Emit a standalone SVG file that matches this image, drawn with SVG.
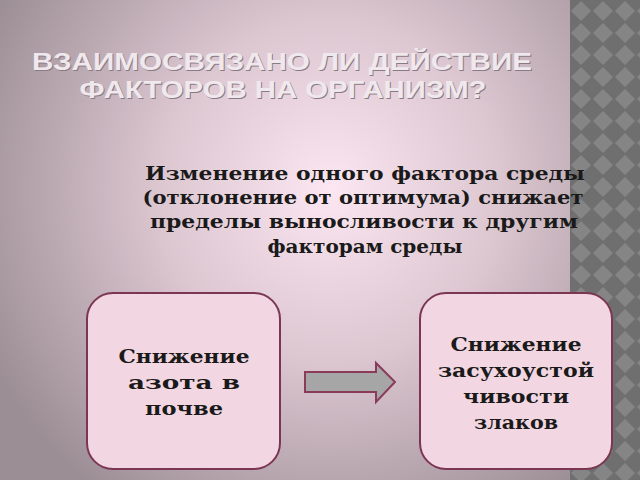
<svg xmlns="http://www.w3.org/2000/svg" width="640" height="480" viewBox="0 0 640 480">
<defs>
<radialGradient id="bg" cx="330" cy="190" r="380" gradientUnits="userSpaceOnUse">
<stop offset="0" stop-color="#fbe6f1"/>
<stop offset="0.45" stop-color="#dcc6d0"/>
<stop offset="1" stop-color="#9c8e95"/>
</radialGradient>
<pattern id="chk" x="570" y="0" width="22" height="22" patternUnits="userSpaceOnUse">
<rect width="22" height="22" fill="#6f6f6f"/>
<polygon points="11,1 21,11 11,21 1,11" fill="#858585"/>
</pattern>
<style>
.t{font-family:"DejaVu Serif","Liberation Serif",serif;font-weight:bold;fill:#1a1a1a;text-anchor:middle;font-size:18px}
.h{font-family:"Liberation Sans",sans-serif;font-weight:bold;fill:#efe8ed;text-anchor:middle;font-size:24px}
.s{fill:#8a7a83}
.box{fill:#f2d6e1;stroke:#7b3652;stroke-width:2}
</style>
</defs>
<rect width="640" height="480" fill="url(#bg)"/>
<rect x="570" y="0" width="70" height="480" fill="url(#chk)"/>
<g id="title">
<text class="h s" x="283" y="71" textLength="500" lengthAdjust="spacingAndGlyphs">ВЗАИМОСВЯЗАНО ЛИ ДЕЙСТВИЕ</text>
<text class="h s" x="284" y="99" textLength="407" lengthAdjust="spacingAndGlyphs">ФАКТОРОВ НА ОРГАНИЗМ?</text>
<text class="h" x="282" y="70" textLength="500" lengthAdjust="spacingAndGlyphs">ВЗАИМОСВЯЗАНО ЛИ ДЕЙСТВИЕ</text>
<text class="h" x="283" y="98" textLength="407" lengthAdjust="spacingAndGlyphs">ФАКТОРОВ НА ОРГАНИЗМ?</text>
</g>
<g id="desc">
<text class="t" x="365" y="180" textLength="440" lengthAdjust="spacingAndGlyphs">Изменение одного фактора среды</text>
<text class="t" x="363" y="204" textLength="441" lengthAdjust="spacingAndGlyphs">(отклонение от оптимума)  снижает</text>
<text class="t" x="364" y="228" textLength="428" lengthAdjust="spacingAndGlyphs">пределы выносливости к другим</text>
<text class="t" x="365" y="253" textLength="195" lengthAdjust="spacingAndGlyphs">факторам среды</text>
</g>
<g id="node1">
<rect class="box" x="87" y="293" width="193" height="176" rx="26"/>
<text class="t" x="184" y="363" textLength="131" lengthAdjust="spacingAndGlyphs">Снижение</text>
<text class="t" x="184" y="389" textLength="112" lengthAdjust="spacingAndGlyphs">азота в</text>
<text class="t" x="184" y="415" textLength="78" lengthAdjust="spacingAndGlyphs">почве</text>
</g>
<g id="node2">
<rect class="box" x="420" y="293" width="192" height="176" rx="26"/>
<text class="t" x="516" y="351" textLength="131" lengthAdjust="spacingAndGlyphs">Снижение</text>
<text class="t" x="516" y="377" textLength="156" lengthAdjust="spacingAndGlyphs">засухоустой</text>
<text class="t" x="516" y="403" textLength="106" lengthAdjust="spacingAndGlyphs">чивости</text>
<text class="t" x="516" y="429" textLength="84" lengthAdjust="spacingAndGlyphs">злаков</text>
</g>
<g id="connectors">
<polygon points="305,372 376,372 376,363 395,382 376,402 376,392 305,392" fill="#a6a6a6" stroke="#8a3b5a" stroke-width="2"/>
</g>
</svg>
